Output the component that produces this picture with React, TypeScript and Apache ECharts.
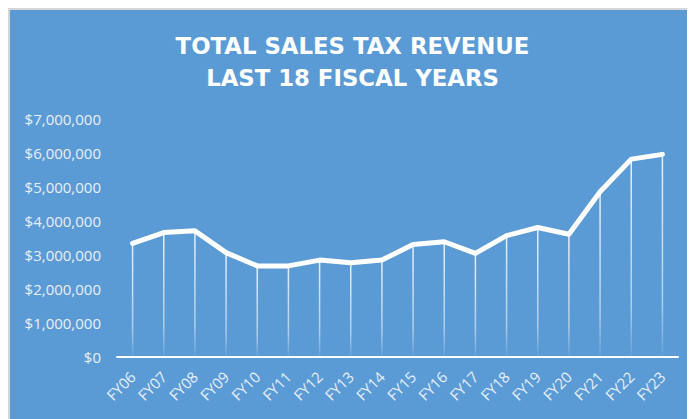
import React, { useEffect, useRef } from "react";
import * as echarts from "echarts";

const categories = [
  "FY06", "FY07", "FY08", "FY09", "FY10", "FY11", "FY12", "FY13", "FY14",
  "FY15", "FY16", "FY17", "FY18", "FY19", "FY20", "FY21", "FY22", "FY23",
];
const revenue = [
  3340000, 3660000, 3710000, 3070000, 2680000, 2680000, 2850000, 2770000, 2850000,
  3310000, 3390000, 3050000, 3570000, 3810000, 3610000, 4860000, 5820000, 5960000,
];
const titleLines = ["TOTAL SALES TAX REVENUE", "LAST 18 FISCAL YEARS"];

const fmt = (v: number) => "$" + v.toLocaleString("en-US");

export default function App() {
  const ref = useRef<HTMLDivElement>(null);
  useEffect(() => {
    if (!ref.current) return;
    const chart = echarts.init(ref.current, undefined, { renderer: "svg" });
    chart.setOption({
      animation: false,
      backgroundColor: "#5b9bd5",
      title: {
        text: titleLines.join("\n"),
        left: "center",
        top: 15,
        textStyle: {
          color: "#ffffff",
          fontFamily: "DejaVu Sans",
          fontWeight: "bold",
          fontSize: 22.8,
          lineHeight: 32,
        },
      },
      grid: { left: 107, right: 17, top: 109, bottom: 62 },
      xAxis: {
        type: "category",
        data: categories,
        boundaryGap: true,
        axisLine: { show: true, lineStyle: { color: "#ffffff", width: 2 } },
        axisTick: { show: false },
        axisLabel: {
          rotate: 45,
          color: "#e8eff8",
          fontFamily: "Open Sans",
          fontSize: 15,
          margin: 17,
          interval: 0,
        },
      },
      yAxis: {
        type: "value",
        min: 0,
        max: 7000000,
        interval: 1000000,
        axisLine: { show: false },
        axisTick: { show: false },
        splitLine: { show: false },
        axisLabel: {
          color: "#e8eff8",
          fontFamily: "Open Sans",
          fontSize: 15,
          margin: 16,
          formatter: (v: number) => fmt(v),
        },
      },
      series: [
        {
          type: "bar",
          data: revenue,
          barWidth: 1.5,
          z: 1,
          itemStyle: {
            color: new echarts.graphic.LinearGradient(0, 0, 0, 1, [
              { offset: 0, color: "rgba(255,255,255,0.85)" },
              { offset: 0.75, color: "rgba(255,255,255,0.5)" },
              { offset: 1, color: "rgba(255,255,255,0.05)" },
            ]),
          },
        },
        {
          type: "line",
          data: revenue,
          z: 3,
          showSymbol: false,
          symbol: "none",
          lineStyle: { color: "#ffffff", width: 5, cap: "round", join: "round" },
        },
      ],
    });
    return () => chart.dispose();
  }, []);
  return (
    <div
      style={{
        width: 685,
        height: 409,
        borderTop: "2px solid #d6d6d6",
        borderLeft: "2px solid #d6d6d6",
      }}
    >
      <div ref={ref} style={{ width: 685, height: 409 }} />
    </div>
  );
}
